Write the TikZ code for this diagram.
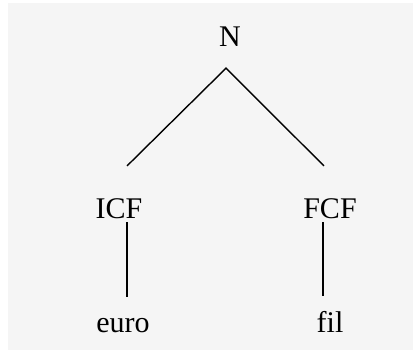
\documentclass[tikz,border=0pt]{standalone}
\usepackage{fontspec}
\setmainfont{Liberation Serif}
\begin{document}
\begin{tikzpicture}[x=1pt,y=-1pt,
  lbl/.style={inner sep=0pt,anchor=base,font=\fontsize{30}{36}\selectfont},
  br/.style={line width=1.4pt}]
  \useasboundingbox (0,0) rectangle (420,361);
  \fill[black!4] (8,3) rectangle (413,350);
  \node[lbl] (n) at (230,47){N};
  \node[lbl] (icf) at (119,218){ICF};
  \node[lbl] (fcf) at (330,218){FCF};
  \node[lbl] (euro) at (123,332){euro};
  \node[lbl] (fil) at (330,332){fil};
  \draw[br] ([xshift=8pt,yshift=32pt]icf.north) -- ([xshift=-4pt,yshift=-21pt]n.south) -- ([xshift=-6pt,yshift=32pt]fcf.north);
  \draw[br] ([xshift=8pt,yshift=-4pt]icf.south) -- ([xshift=4pt,yshift=21pt]euro.north);
  \draw[br] ([xshift=-7pt,yshift=-4pt]fcf.south) -- ([xshift=-7pt,yshift=15pt]fil.north);
\end{tikzpicture}
\end{document}
